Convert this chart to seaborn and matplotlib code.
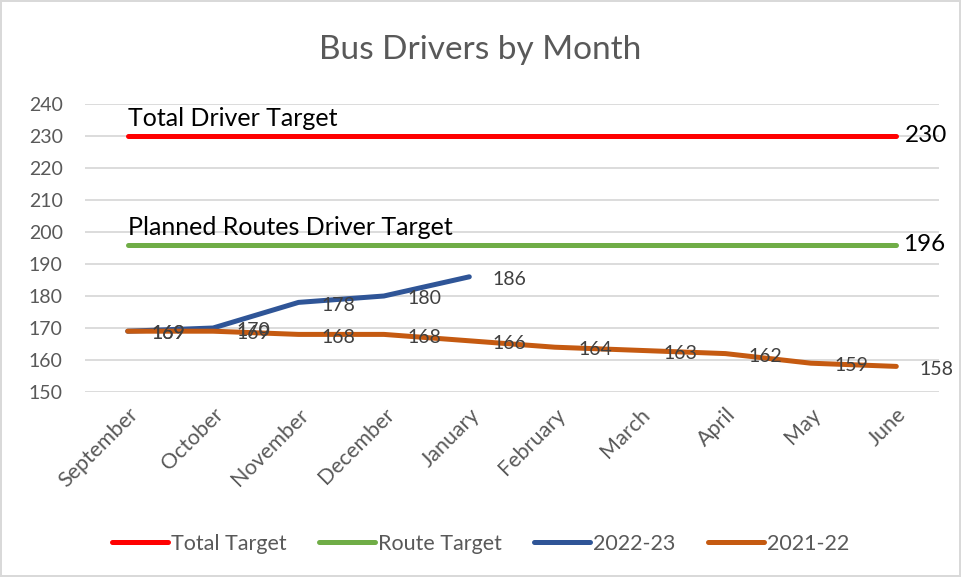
import numpy as np
import pandas as pd
import seaborn as sns
import matplotlib.pyplot as plt

# chart values
months = ["September", "October", "November", "December", "January",
          "February", "March", "April", "May", "June"]
total_target = [230, 230, 230, 230, 230, 230, 230, 230, 230, 230]
route_target = [196, 196, 196, 196, 196, 196, 196, 196, 196, 196]
drivers_2223 = [169, 170, 178, 180, 186]
drivers_2122 = [169, 169, 168, 168, 166, 164, 163, 162, 159, 158]
series_names = ["Total Target", "Route Target", "2022-23", "2021-22"]
colors = ["#FF0000", "#70AD47", "#2F5597", "#C55A11"]

rows = []
for name, vals in zip(series_names, [total_target, route_target, drivers_2223, drivers_2122]):
    for m, v in zip(months, vals):
        rows.append({"month": m, "drivers": v, "series": name})
df = pd.DataFrame(rows)

sns.set_theme(style="white")
plt.rcParams['font.family'] = ['Lato', 'DejaVu Sans']

fig = plt.figure(figsize=(9.61, 5.77), dpi=100)
ax = fig.add_axes([85/961, 1-392/577, 854/961, 288/577])

sns.lineplot(data=df, x="month", y="drivers", hue="series", hue_order=series_names,
             palette=colors, linewidth=3.6, sort=False, ax=ax, solid_capstyle="round")

ax.set_xlim(-0.5, 9.5)
ax.set_ylim(150, 240)
ax.set_yticks(np.arange(150, 241, 10))
ax.yaxis.grid(True, color="#D9D9D9", linewidth=1.3)
ax.set_axisbelow(True)
for s in ax.spines.values():
    s.set_visible(False)
ax.set_xlabel("")
ax.set_ylabel("")
ax.tick_params(axis="y", labelsize=14, labelcolor="#595959", pad=16, length=0)
ax.tick_params(axis="x", labelsize=15.5, labelcolor="#595959", pad=9, length=0)
for lbl in ax.get_xticklabels():
    lbl.set_rotation(45)
    lbl.set_ha("right")
    lbl.set_rotation_mode("anchor")

# data labels to the right of each point
for vals in [drivers_2223, drivers_2122]:
    for i, v in enumerate(vals):
        ax.annotate(str(v), (i, v), xytext=(29, -2), textcoords="offset points",
                    ha="center", va="center", fontsize=14, color="#404040")

# target annotations
ax.annotate("Total Driver Target", (0, total_target[0]), xytext=(0, 4), textcoords="offset points",
            ha="left", va="bottom", fontsize=18, color="black")
ax.annotate("Planned Routes Driver Target", (0, route_target[0]), xytext=(0, 4), textcoords="offset points",
            ha="left", va="bottom", fontsize=18, color="black")
ax.annotate(str(total_target[-1]), (9, total_target[-1]), xytext=(6, 0), textcoords="offset points",
            ha="left", va="center", fontsize=17.5, color="black")
ax.annotate(str(route_target[-1]), (9, route_target[-1]), xytext=(5, 0), textcoords="offset points",
            ha="left", va="center", fontsize=17.5, color="black")

fig.suptitle("Bus Drivers by Month", y=1-50/577, va="center", fontsize=24,
             color="#595959")

handles, labels = ax.get_legend_handles_labels()
ax.get_legend().remove()
fig.legend(handles, labels, loc="center", bbox_to_anchor=(0.5, 1-544/577), ncol=4,
           frameon=False, fontsize=15.5, handlelength=2.6, handletextpad=0.15,
           columnspacing=1.5, labelcolor="#595959")

fig.patch.set_edgecolor("#D9D9D9")
fig.patch.set_linewidth(1.5)
fig.savefig("out.png", dpi=100, edgecolor=fig.get_edgecolor())
